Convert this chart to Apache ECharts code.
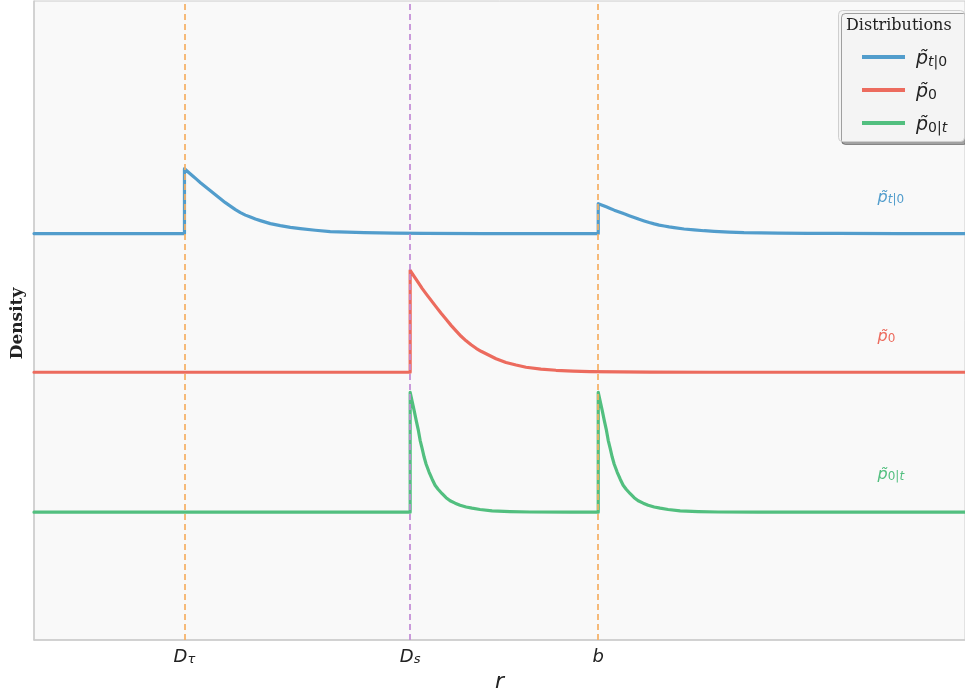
<!DOCTYPE html>
<html>
<head>
<meta charset="utf-8">
<script src="https://cdn.jsdelivr.net/npm/echarts@6/dist/echarts.min.js"></script>
<style>html,body{margin:0;padding:0;background:#fff}#c{width:965px;height:693px}</style>
</head>
<body>
<div id="c"></div>
<script>
// ---- data ----
var seriesNames = ['p_t|0', 'p_0', 'p_0|t'];
var seriesColors = ['#529dcc', '#ec6b5e', '#52bf7f'];
var tickValues = [1.6, 4.0, 6.0];           // D_tau, D_s, b
var tickLabels = ['{d|D}{s|τ}', '{d|D}{s|s}', '{d|b}'];
var refLineColors = ['#f5b064', '#c28ad6', '#f5b064'];
var rMin = 0, rMax = 9.9;

var baseBlue = 6.36, baseRed = 4.19, baseGreen = 2.0;

// r offsets (after each jump) at which the slow decays were read
var decayDr = [0, 0.042, 0.085, 0.127, 0.170, 0.223, 0.276, 0.329, 0.382, 0.435, 0.488, 0.542, 0.595, 0.648,
               0.701, 0.754, 0.807, 0.913, 1.019, 1.126, 1.232, 1.391, 1.550, 1.731, 1.911, 2.230, 2.549, 3.186];
var blueAtDtau = [7.376, 7.321, 7.266, 7.212, 7.157, 7.094, 7.032, 6.969, 6.907, 6.844, 6.790, 6.735, 6.688, 6.649,
                  6.618, 6.587, 6.563, 6.516, 6.485, 6.458, 6.438, 6.412, 6.391, 6.382, 6.376, 6.368, 6.365, 6.36];
var blueAtB = [6.829, 6.804, 6.779, 6.754, 6.727, 6.699, 6.669, 6.641, 6.613, 6.583, 6.558, 6.533, 6.512, 6.493,
               6.479, 6.465, 6.454, 6.432, 6.418, 6.405, 6.396, 6.383, 6.374, 6.370, 6.367, 6.364, 6.362, 6.36];
var redAtDs = [5.784, 5.690, 5.596, 5.503, 5.417, 5.315, 5.213, 5.112, 5.018, 4.924, 4.838, 4.753, 4.682, 4.620,
               4.565, 4.518, 4.479, 4.401, 4.343, 4.303, 4.268, 4.240, 4.221, 4.209, 4.201, 4.195, 4.192, 4.19];

// r offsets at which the fast decays were read
var fastDr = [0, 0.021, 0.042, 0.064, 0.085, 0.106, 0.127, 0.149, 0.170, 0.202, 0.234, 0.265, 0.297, 0.340,
              0.382, 0.425, 0.478, 0.531, 0.595, 0.658, 0.743, 0.871, 1.062, 1.274, 1.699];
var greenAtDs = [3.875, 3.734, 3.594, 3.438, 3.297, 3.125, 3.0, 2.859, 2.75, 2.625, 2.516, 2.422, 2.359, 2.289,
                 2.227, 2.18, 2.141, 2.109, 2.081, 2.063, 2.042, 2.02, 2.009, 2.003, 2.0];
var greenAtB = [3.875, 3.734, 3.594, 3.438, 3.297, 3.125, 3.0, 2.859, 2.75, 2.625, 2.516, 2.422, 2.359, 2.289,
                2.227, 2.18, 2.141, 2.109, 2.081, 2.063, 2.042, 2.02, 2.009, 2.003, 2.0];

var curveLabelPos = [[8.97, 6.95], [8.97, 4.77], [8.97, 2.61]];
var subLabels = ['{si|t}{sn|\u007C0}', '{sn|0}', '{sn|0\u007C}{si|t}'];

// build [r, density] lists: flat baseline, vertical jump, then the read decay
function build(base, pulses) {
  var pts = [[rMin, base]];
  pulses.forEach(function (p) {
    pts.push([p.at, base]);
    p.dr.forEach(function (d, i) { pts.push([p.at + d, p.y[i]]); });
  });
  pts.push([rMax, base]);
  return pts;
}

var mathFont = 'DejaVu Sans';
function richFor(color, pSize, sSize, pLH, sLH) {
  return {
    p: { fontFamily: mathFont, fontStyle: 'italic', fontSize: pSize, lineHeight: pLH, color: color, verticalAlign: 'bottom' },
    si: { fontFamily: mathFont, fontStyle: 'italic', fontSize: sSize, lineHeight: sLH, color: color, verticalAlign: 'bottom' },
    sn: { fontFamily: mathFont, fontSize: sSize, lineHeight: sLH, color: color, verticalAlign: 'bottom' }
  };
}

function makeCurve(idx, data) {
  var c = seriesColors[idx];
  return {
    name: seriesNames[idx], type: 'line', data: data, symbol: 'none', showSymbol: false,
    lineStyle: { color: c, width: 3.2, join: 'round', cap: 'round' }, itemStyle: { color: c }, z: 2, animation: false,
    markPoint: {
      symbol: 'circle', symbolSize: 0, silent: true,
      data: [{ coord: curveLabelPos[idx] }],
      label: {
        show: true, position: 'right', distance: 0, formatter: '{p|p̃}' + subLabels[idx],
        rich: richFor(c, 16, 12, 19, 11)
      }
    }
  };
}

var legendMap = {};
seriesNames.forEach(function (n, i) { legendMap[n] = '{p|p̃}' + subLabels[i]; });

var blueData = build(baseBlue, [{ at: tickValues[0], dr: decayDr, y: blueAtDtau }, { at: tickValues[2], dr: decayDr, y: blueAtB }]);
var redData = build(baseRed, [{ at: tickValues[1], dr: decayDr, y: redAtDs }]);
var greenData = build(baseGreen, [{ at: tickValues[1], dr: fastDr, y: greenAtDs }, { at: tickValues[2], dr: fastDr, y: greenAtB }]);

var chart = echarts.init(document.getElementById('c'), null, { renderer: 'canvas' });
var option = {
  animation: false,
  backgroundColor: '#ffffff',
  grid: { left: 34, right: 0, top: 1, bottom: 53, show: true, backgroundColor: '#f9f9f9', borderColor: '#cccccc', borderWidth: 1,
          containLabel: false, outerBoundsMode: 'none' },
  xAxis: {
    type: 'value', min: rMin, max: rMax,
    name: 'r', nameLocation: 'middle', nameGap: 22,
    nameTextStyle: { fontFamily: mathFont, fontStyle: 'italic', fontSize: 22, color: '#222' },
    axisLine: { show: true, lineStyle: { color: '#cccccc', width: 1.5 } },
    axisTick: { show: false },
    splitLine: { show: false },
    axisLabel: {
      customValues: tickValues, margin: 4,
      formatter: function (v) {
        for (var i = 0; i < tickValues.length; i++) if (Math.abs(v - tickValues[i]) < 1e-6) return tickLabels[i];
        return '';
      },
      rich: {
        d: { fontFamily: mathFont, fontStyle: 'italic', fontSize: 18, lineHeight: 22, color: '#222', verticalAlign: 'bottom' },
        s: { fontFamily: mathFont, fontStyle: 'italic', fontSize: 13, lineHeight: 12, color: '#222', verticalAlign: 'bottom' }
      }
    }
  },
  yAxis: {
    type: 'value', min: 0, max: 10,
    name: 'Density', nameLocation: 'middle', nameGap: 8,
    nameTextStyle: { fontFamily: 'DejaVu Serif', fontWeight: 'bold', fontSize: 17, color: '#222', padding: [0, 6, 0, 0] },
    axisLine: { show: true, lineStyle: { color: '#cccccc', width: 1.5 } },
    axisTick: { show: false }, axisLabel: { show: false }, splitLine: { show: false }
  },
  legend: {
    data: seriesNames.map(function (n) { return { name: n, icon: 'rect' }; }),
    orient: 'vertical', left: 857, top: 45, itemWidth: 43, itemHeight: 4, itemGap: 14,
    textStyle: { padding: [0, 0, 0, 6], rich: richFor('#222', 19, 14, 24, 13) },
    formatter: function (n) { return legendMap[n]; }
  },
  graphic: [
    { type: 'rect', left: 838, top: 10, z: 0, zlevel: 0,
      shape: { width: 126, height: 131, r: 4 },
      style: { fill: '#f4f4f4', stroke: '#cfcfcf', lineWidth: 1, shadowBlur: 0, shadowOffsetX: 3, shadowOffsetY: 3, shadowColor: 'rgba(0,0,0,0.35)' } },
    { type: 'text', left: 846, top: 18, z: 1,
      style: { text: 'Distributions', fontFamily: 'DejaVu Serif', fontSize: 16, fill: '#222' } }
  ],
  series: [
    makeCurve(0, blueData),
    makeCurve(1, redData),
    makeCurve(2, greenData),
    {
      name: 'refs', type: 'line', data: [], z: 5, silent: true,
      markLine: {
        symbol: 'none', silent: true, label: { show: false },
        data: tickValues.map(function (v, i) {
          return { xAxis: v, lineStyle: { color: refLineColors[i], type: [6, 4], width: 1.8, opacity: 0.95 } };
        })
      }
    }
  ]
};
chart.setOption(option);
</script>
</body>
</html>
